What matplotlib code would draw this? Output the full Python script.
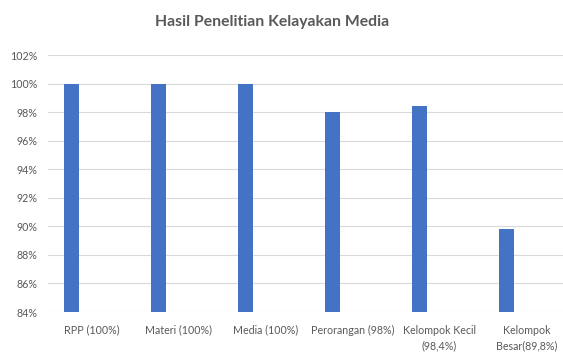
import matplotlib.pyplot as plt
import numpy as np

labels = ['RPP (100%)', 'Materi (100%)', 'Media (100%)', 'Perorangan (98%)',
          'Kelompok Kecil\n(98,4%)', 'Kelompok\nBesar(89,8%)']
values = [100, 100, 100, 98, 98.4, 89.8]
yticks = [84, 86, 88, 90, 92, 94, 96, 98, 100, 102]

plt.rcParams['font.family'] = ['Lato', 'DejaVu Sans']

fig = plt.figure(figsize=(5.63, 3.53), dpi=100)
ax = fig.add_axes([0.086, 0.116, 0.926, 0.728])

x = np.arange(len(labels))
ax.bar(x - 0.23, values, width=0.172, color='#4472C4', zorder=3)

ax.set_xlim(-0.5, 5.5)
ax.set_ylim(84, 102)
ax.set_yticks(yticks)
ax.set_yticklabels(['%d%%' % v for v in yticks])
ax.set_xticks(x)
ax.set_xticklabels(labels, linespacing=1.55)
ax.tick_params(axis='both', length=0, colors='#595959', labelsize=7.7)
ax.tick_params(axis='x', pad=9)
ax.tick_params(axis='y', pad=8)

ax.grid(axis='y', color='#d9d9d9', linewidth=0.8, zorder=0)
for s in ax.spines.values():
    s.set_visible(False)

fig.text(0.483, 0.937, 'Hasil Penelitian Kelayakan Media', ha='center', va='center',
         fontsize=11.3, fontweight='bold', color='#595959')

fig.savefig('out.png', dpi=100)
